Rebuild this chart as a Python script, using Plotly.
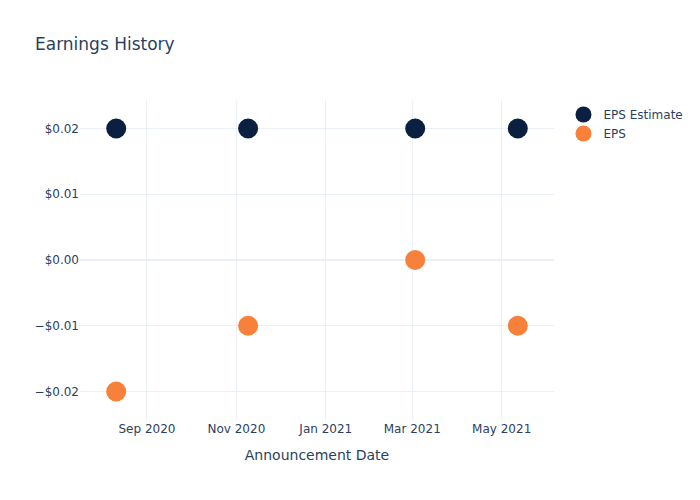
import plotly.graph_objects as go

dates = ["2020-08-11", "2020-11-09", "2021-03-03", "2021-05-12"]
eps_estimate = [0.02, 0.02, 0.02, 0.02]
eps_actual = [-0.02, -0.01, 0.00, -0.01]

fig = go.Figure()
fig.add_trace(go.Scatter(x=dates, y=eps_estimate, mode="markers", name="EPS Estimate",
                         marker=dict(color="#0b1f41", size=20)))
fig.add_trace(go.Scatter(x=dates, y=eps_actual, mode="markers", name="EPS",
                         marker=dict(color="#f7813a", size=20)))
fig.update_layout(
    template="plotly_white",
    width=700, height=500,
    font=dict(family="DejaVu Sans"),
    title=dict(text="Earnings History"),
    xaxis=dict(title=dict(text="Announcement Date")),
    yaxis=dict(tickformat="$.2f"),
)
fig.write_html("out.html")
